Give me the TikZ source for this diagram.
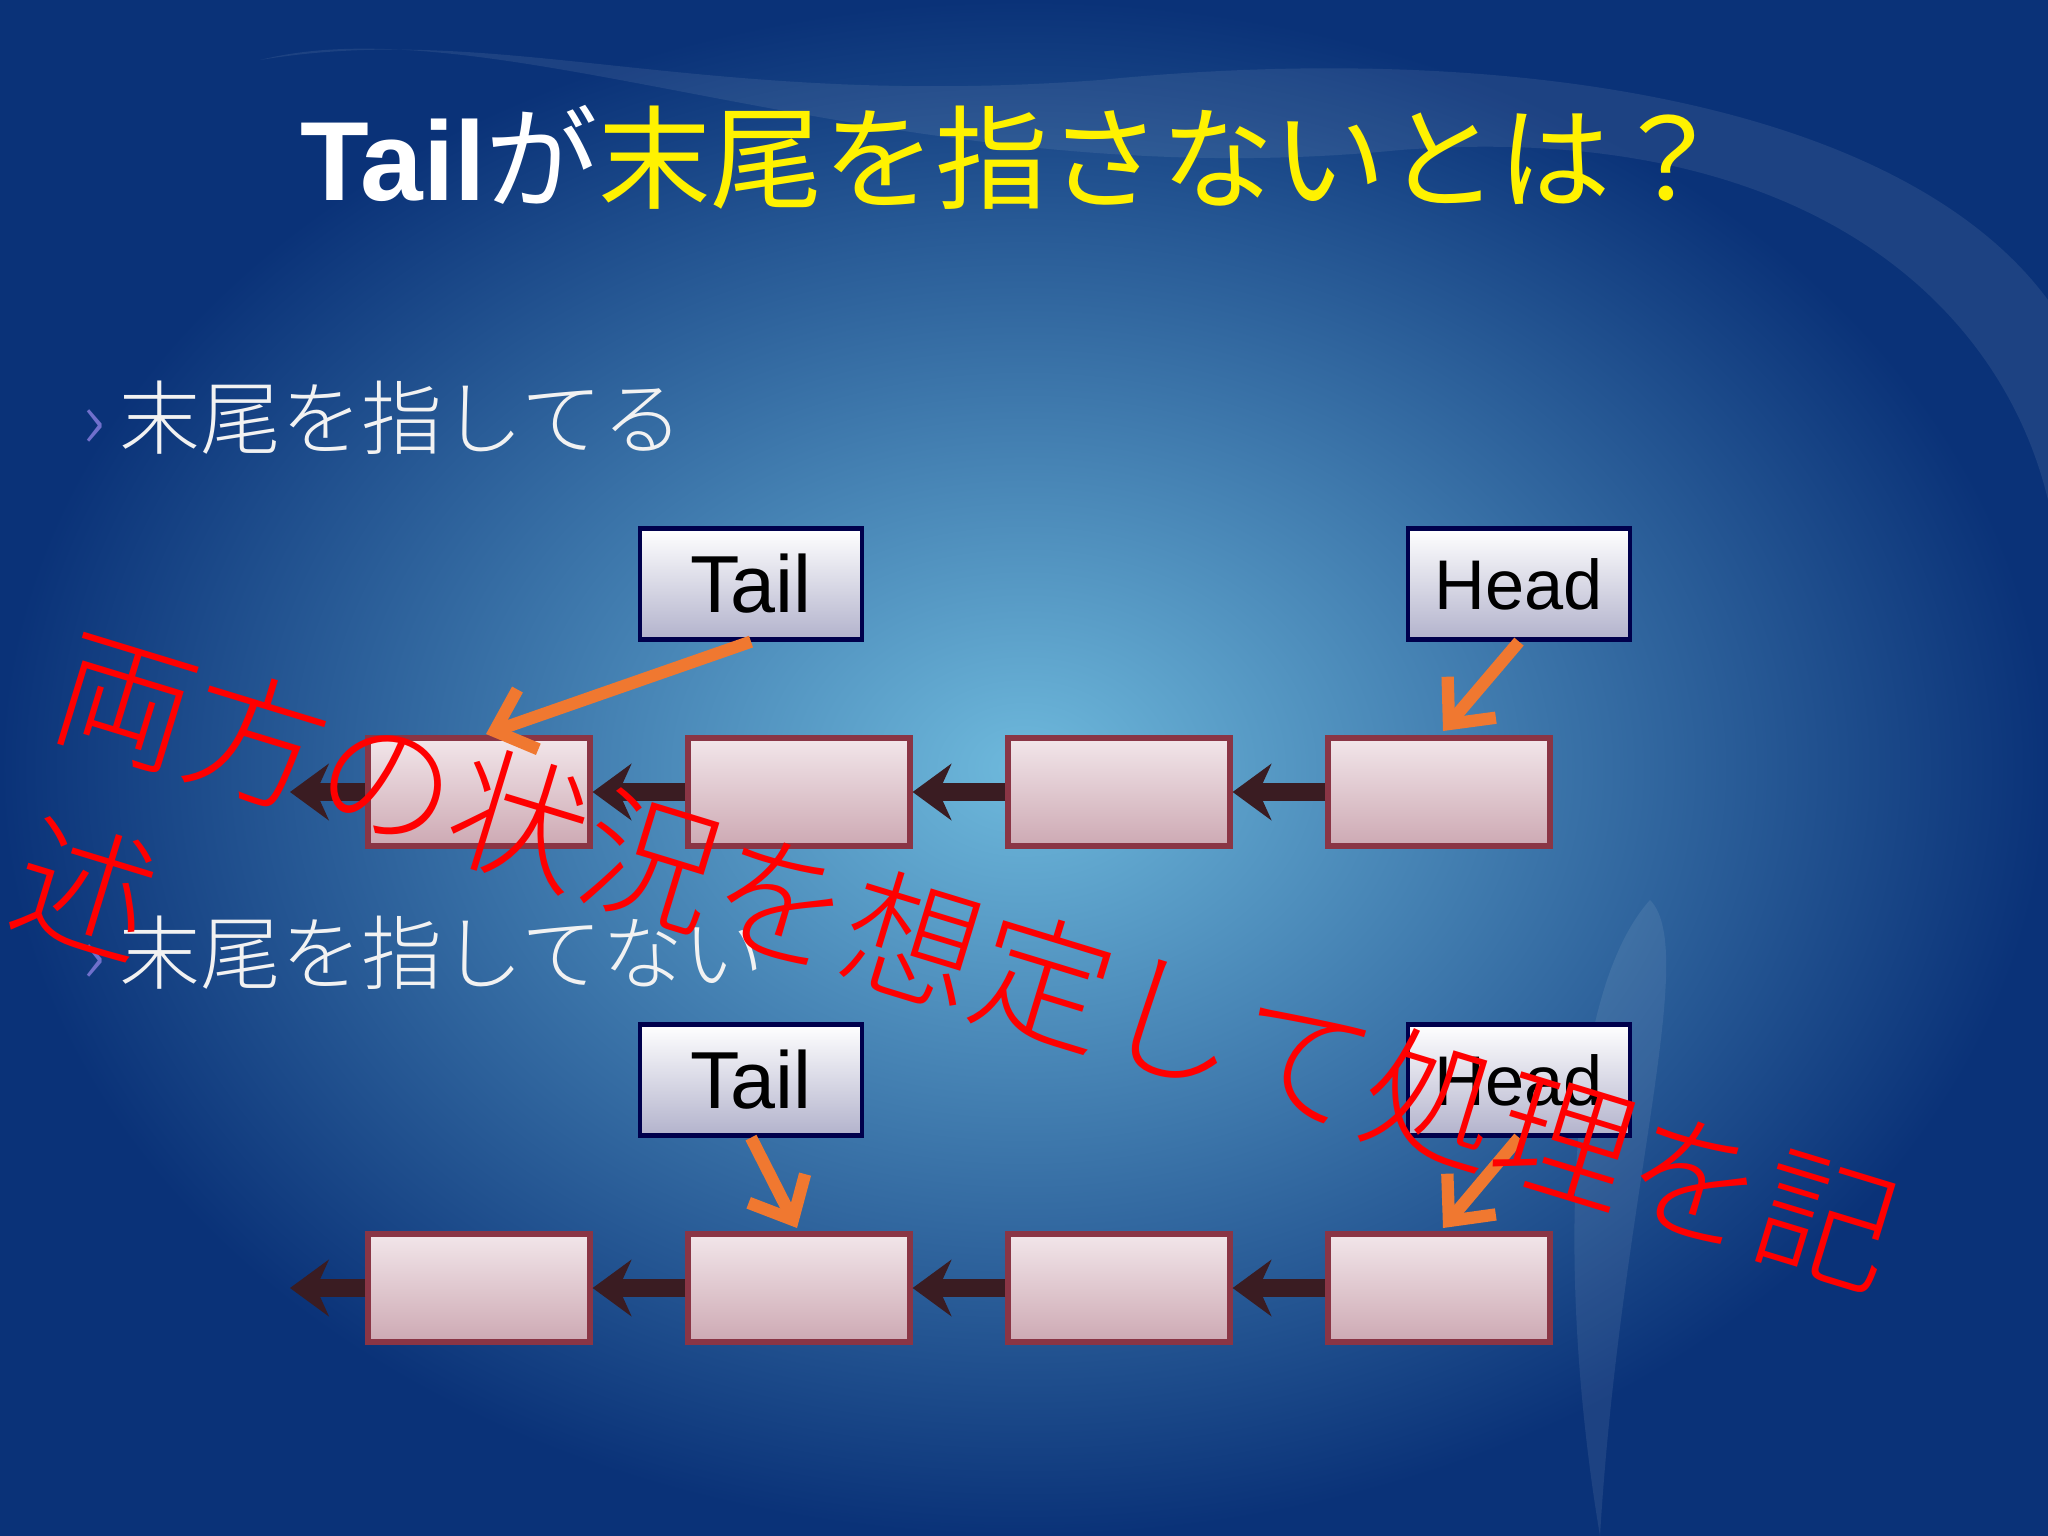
\documentclass[tikz,border=0pt]{standalone}
\usepackage{fontspec}
\setmainfont{Liberation Sans}
\newfontfamily\jp{Noto Sans CJK JP}
\newfontfamily\jpl{Noto Sans CJK JP Light}
\usetikzlibrary{arrows.meta}
\definecolor{nodeedge}{HTML}{8A3545}
\definecolor{arr}{HTML}{3A1C22}
\definecolor{org}{HTML}{F07830}
\definecolor{ntop}{HTML}{F2E6EA}
\definecolor{nbot}{HTML}{CDA9B3}
\tikzset{
  lnode/.style={draw=nodeedge,line width=1.5pt,top color=ntop,bottom color=nbot,minimum width=222\px,minimum height=108\px,inner sep=0},
  ptr/.style={draw=blue!30!black,line width=1.2pt,top color=white,bottom color=blue!20!gray!50!white,minimum width=222\px,minimum height=111\px,inner sep=0,font=\fontsize{23}{26}\selectfont},
  link/.style={draw=arr,line width=5pt,-{Stealth[length=11pt,width=16pt]}},
  optr/.style={draw=org,line width=3.5pt,-{Straight Barb[length=10pt,width=18pt]}},
  bul/.style={anchor=west,text=white!90!gray,font=\jpl\fontsize{23}{26}\selectfont}
}
\newlength{\px}\setlength{\px}{0.01cm}
\begin{document}
\begin{tikzpicture}[x=0.01cm,y=-0.01cm]
\useasboundingbox (0,0) rectangle (2048,1536);
\shade[inner color={rgb,255:red,110;green,185;blue,220},outer color={rgb,255:red,10;green,50;blue,120}] (0,0) rectangle (2048,1536);
\fill[white,opacity=0.08] (260,60) .. controls (500,0) and (900,200) .. (1400,150) .. controls (1800,120) and (2000,300) .. (2048,500) -- (2048,300) .. controls (1900,100) and (1500,40) .. (1100,80) .. controls (700,110) and (500,20) .. (260,60);
\fill[white,opacity=0.08] (1600,1536) .. controls (1620,1200) and (1700,950) .. (1650,900) .. controls (1560,1000) and (1560,1300) .. (1600,1536);
\node (title) at (1012,157) {\fontsize{32}{36}\selectfont\textbf{\textcolor{white}{Tail}}{\jp\textcolor{white}{が}\textcolor{yellow}{末尾を指さないとは？}}};
\node[bul] (b1) at (70,418) {\textcolor{white!40!blue!60!gray}{›}\,末尾を指してる};
\node[bul] (b2) at (70,953) {\textcolor{white!40!blue!60!gray}{›}\,末尾を指してない};
% row 1
\node[ptr] (t1) at (751,584) {Tail};
\node[ptr,font=\fontsize{20}{24}\selectfont] (h1) at (1519,584) {Head};
\foreach \i/\x in {1/479,2/799,3/1119,4/1439}{\node[lnode] (a\i) at (\x,792) {};}
\coordinate (e1) at (290,792);
\draw[link] (a1.west) -- (e1);
\draw[link] (a2.west) -- (a1.east);
\draw[link] (a3.west) -- (a2.east);
\draw[link] (a4.west) -- (a3.east);
\draw[optr] (t1.south) -- (486,734);
\draw[optr] (h1.south) -- (1443,731);
% row 2
\node[ptr] (t2) at (751,1080) {Tail};
\node[ptr,font=\fontsize{20}{24}\selectfont] (h2) at (1519,1080) {Head};
\foreach \i/\x in {1/479,2/799,3/1119,4/1439}{\node[lnode] (c\i) at (\x,1288) {};}
\coordinate (e2) at (290,1288);
\draw[link] (c1.west) -- (e2);
\draw[link] (c2.west) -- (c1.east);
\draw[link] (c3.west) -- (c2.east);
\draw[link] (c4.west) -- (c3.east);
\draw[optr] (t2.south) -- (797,1228);
\draw[optr] (h2.south) -- (1443,1228);
% red overlay
\node[red,rotate=-17,font=\jpl\fontsize{39}{42}\selectfont] (r1) at (977,960) {両方の状況を想定して処理を記};
\node[red,rotate=-17,font=\jpl\fontsize{39}{42}\selectfont] (r2) at (85,888) {述};
\end{tikzpicture}
\end{document}
